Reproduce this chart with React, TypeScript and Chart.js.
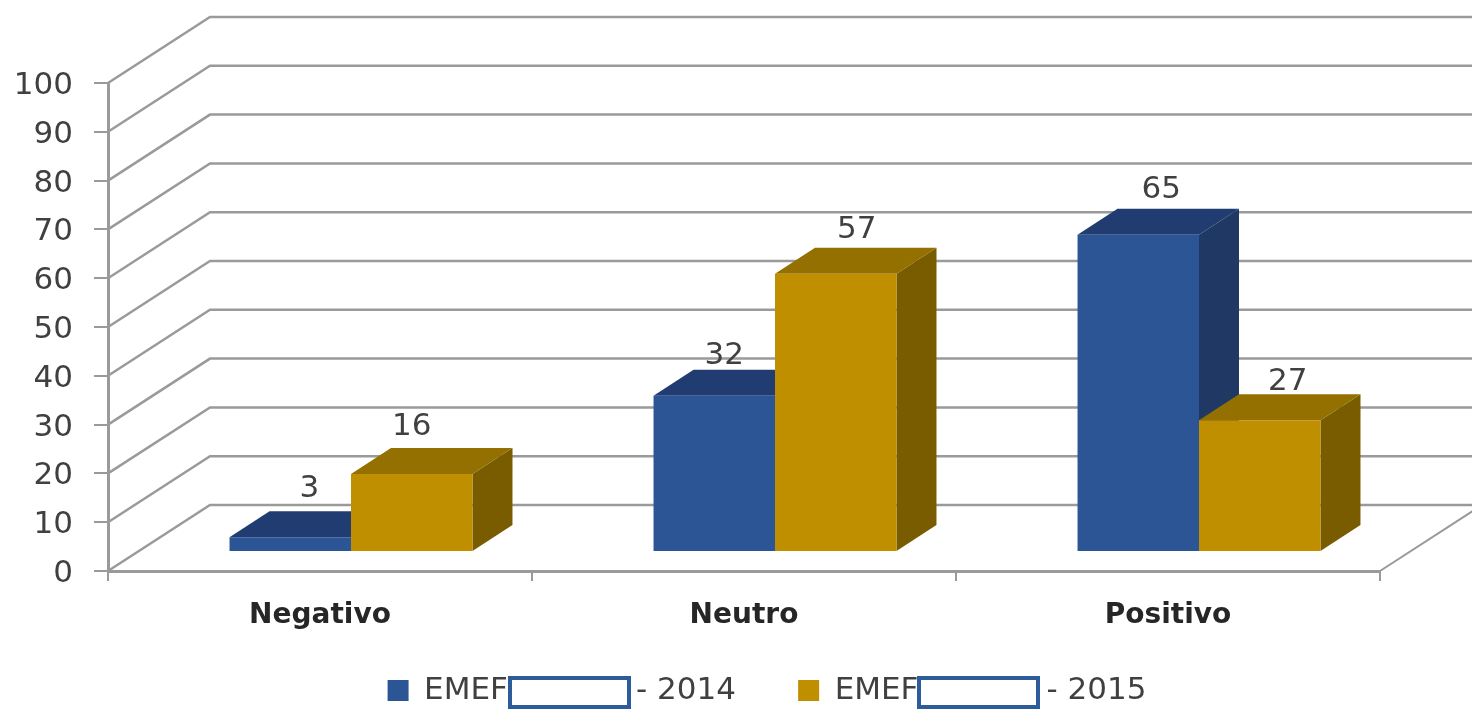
import React, { useEffect, useRef } from "react";
import { Chart, registerables } from "chart.js";

Chart.register(...registerables);

const categories = ["Negativo", "Neutro", "Positivo"];
const values2014 = [3, 32, 65];
const values2015 = [16, 57, 27];
const label2014 = "EMEF             - 2014     ";
const label2015 = "EMEF             - 2015";
const frontColors = ["#2C5596", "#BF8F00"];
const sideColors = ["#1F3864", "#7A5C00"];
const topColors = ["#203C70", "#947000"];
const gridColor = "#9a9a9a";
const FONT = "'DejaVu Sans'";

const WALL_DX = 102;
const WALL_DY = -66;
const BAR_SHIFT_X = 31;
const BAR_SHIFT_Y = -19;
const BAR_DX = 40;
const BAR_DY = -26;
const LABEL_NUDGE_X = [[19, 10, 23], [0, 21, 28]];
const LABEL_LIFT = [[48, 40, 45], [47, 44, 38]];

const poly = (ctx: CanvasRenderingContext2D, color: string, pts: number[][]) => {
  ctx.fillStyle = color;
  ctx.beginPath();
  pts.forEach(([x, y], i) => (i ? ctx.lineTo(x, y) : ctx.moveTo(x, y)));
  ctx.closePath();
  ctx.fill();
};

const threeD = {
  id: "threeD",
  afterLayout(chart: any) {
    const lg = chart.legend;
    const w = lg.right - lg.left;
    lg.left = 77;
    lg.right = lg.left + w;
    lg.top += 7;
    lg.bottom += 7;
  },
  beforeDatasetsDraw(chart: any) {
    const { ctx, chartArea, scales } = chart;
    const canvasW = chart.width;
    ctx.save();
    ctx.strokeStyle = gridColor;
    ctx.lineWidth = 2.5;
    scales.y.ticks.forEach((t: any) => {
      const y = scales.y.getPixelForValue(t.value);
      ctx.beginPath();
      ctx.moveTo(chartArea.left, y);
      ctx.lineTo(chartArea.left + WALL_DX, y + WALL_DY);
      ctx.lineTo(canvasW, y + WALL_DY);
      ctx.stroke();
    });
    // right edge of the floor
    const y0 = scales.y.getPixelForValue(0);
    ctx.lineWidth = 2;
    ctx.beginPath();
    ctx.moveTo(chartArea.right, y0);
    ctx.lineTo(chartArea.right + WALL_DX, y0 + WALL_DY);
    ctx.stroke();

    // sides and tops of the bars, first series behind the second
    chart.data.datasets.forEach((_: any, di: number) => {
      chart.getDatasetMeta(di).data.forEach((bar: any) => {
        const p = bar.getProps(["x", "y", "base", "width"], true);
        const l = p.x - p.width / 2 + BAR_SHIFT_X;
        const r = p.x + p.width / 2 + BAR_SHIFT_X;
        const t = p.y + BAR_SHIFT_Y;
        const b = p.base + BAR_SHIFT_Y;
        poly(ctx, sideColors[di], [[r, t], [r + BAR_DX, t + BAR_DY], [r + BAR_DX, b + BAR_DY], [r, b]]);
        poly(ctx, topColors[di], [[l, t], [l + BAR_DX, t + BAR_DY], [r + BAR_DX, t + BAR_DY], [r, t]]);
      });
    });
    ctx.restore();
    ctx.save();
    ctx.translate(BAR_SHIFT_X, BAR_SHIFT_Y);
  },
  afterDatasetsDraw(chart: any) {
    const { ctx } = chart;
    ctx.restore();
    ctx.save();
    ctx.fillStyle = "#404040";
    ctx.font = `31px ${FONT}`;
    ctx.textAlign = "center";
    ctx.textBaseline = "middle";
    chart.data.datasets.forEach((ds: any, di: number) => {
      chart.getDatasetMeta(di).data.forEach((bar: any, i: number) => {
        const p = bar.getProps(["x", "y"], true);
        ctx.fillText(
          String(ds.data[i]),
          p.x + BAR_SHIFT_X + LABEL_NUDGE_X[di][i],
          p.y + BAR_SHIFT_Y - LABEL_LIFT[di][i]
        );
      });
    });
    ctx.restore();
  },
  afterDraw(chart: any) {
    const { ctx } = chart;
    ctx.save();
    ctx.fillStyle = "#ffffff";
    ctx.strokeStyle = "#2E5B9A";
    ctx.lineWidth = 4;
    [510, 919].forEach((x) => {
      ctx.fillRect(x, 678, 119, 31);
      ctx.strokeRect(x, 678, 119, 29);
    });
    ctx.restore();
  },
};

export default function App() {
  const ref = useRef<HTMLCanvasElement>(null);
  useEffect(() => {
    document.body.style.margin = "0";
    document.body.style.background = "#ffffff";
    const chart = new Chart(ref.current!, {
      type: "bar",
      data: {
        labels: categories,
        datasets: [
          { label: label2014, data: values2014, backgroundColor: frontColors[0], borderWidth: 0 },
          { label: label2015, data: values2015, backgroundColor: frontColors[1], borderWidth: 0 },
        ],
      },
      plugins: [threeD],
      options: {
        animation: false,
        responsive: false,
        layout: { padding: { top: 83, right: 92, left: 0, bottom: 0 } },
        datasets: { bar: { categoryPercentage: 0.573, barPercentage: 1 } },
        plugins: {
          tooltip: { enabled: false },
          legend: {
            position: "bottom",
            labels: {
              boxWidth: 21,
              boxHeight: 21,
              padding: 13,
              color: "#404040",
              font: { family: FONT, size: 31 },
            },
          },
        },
        scales: {
          x: {
            afterFit: (s: any) => { s.height = 84; },
            grid: { offset: true, drawOnChartArea: false, color: gridColor, lineWidth: 2, tickLength: 10 },
            border: { color: gridColor, width: 3 },
            ticks: { padding: 18, color: "#262626", font: { family: FONT, size: 28, weight: "bold" } },
          },
          y: {
            min: 0,
            max: 100,
            afterFit: (s: any) => { s.width = 108; },
            grid: { drawOnChartArea: false, color: gridColor, lineWidth: 2, tickLength: 14 },
            border: { color: gridColor, width: 3 },
            ticks: { stepSize: 10, padding: 21, labelOffset: 3, color: "#404040", font: { family: FONT, size: 31 } },
          },
        },
      },
    } as any);
    return () => chart.destroy();
  }, []);
  return <canvas ref={ref} width={1472} height={709} style={{ display: "block" }} />;
}
